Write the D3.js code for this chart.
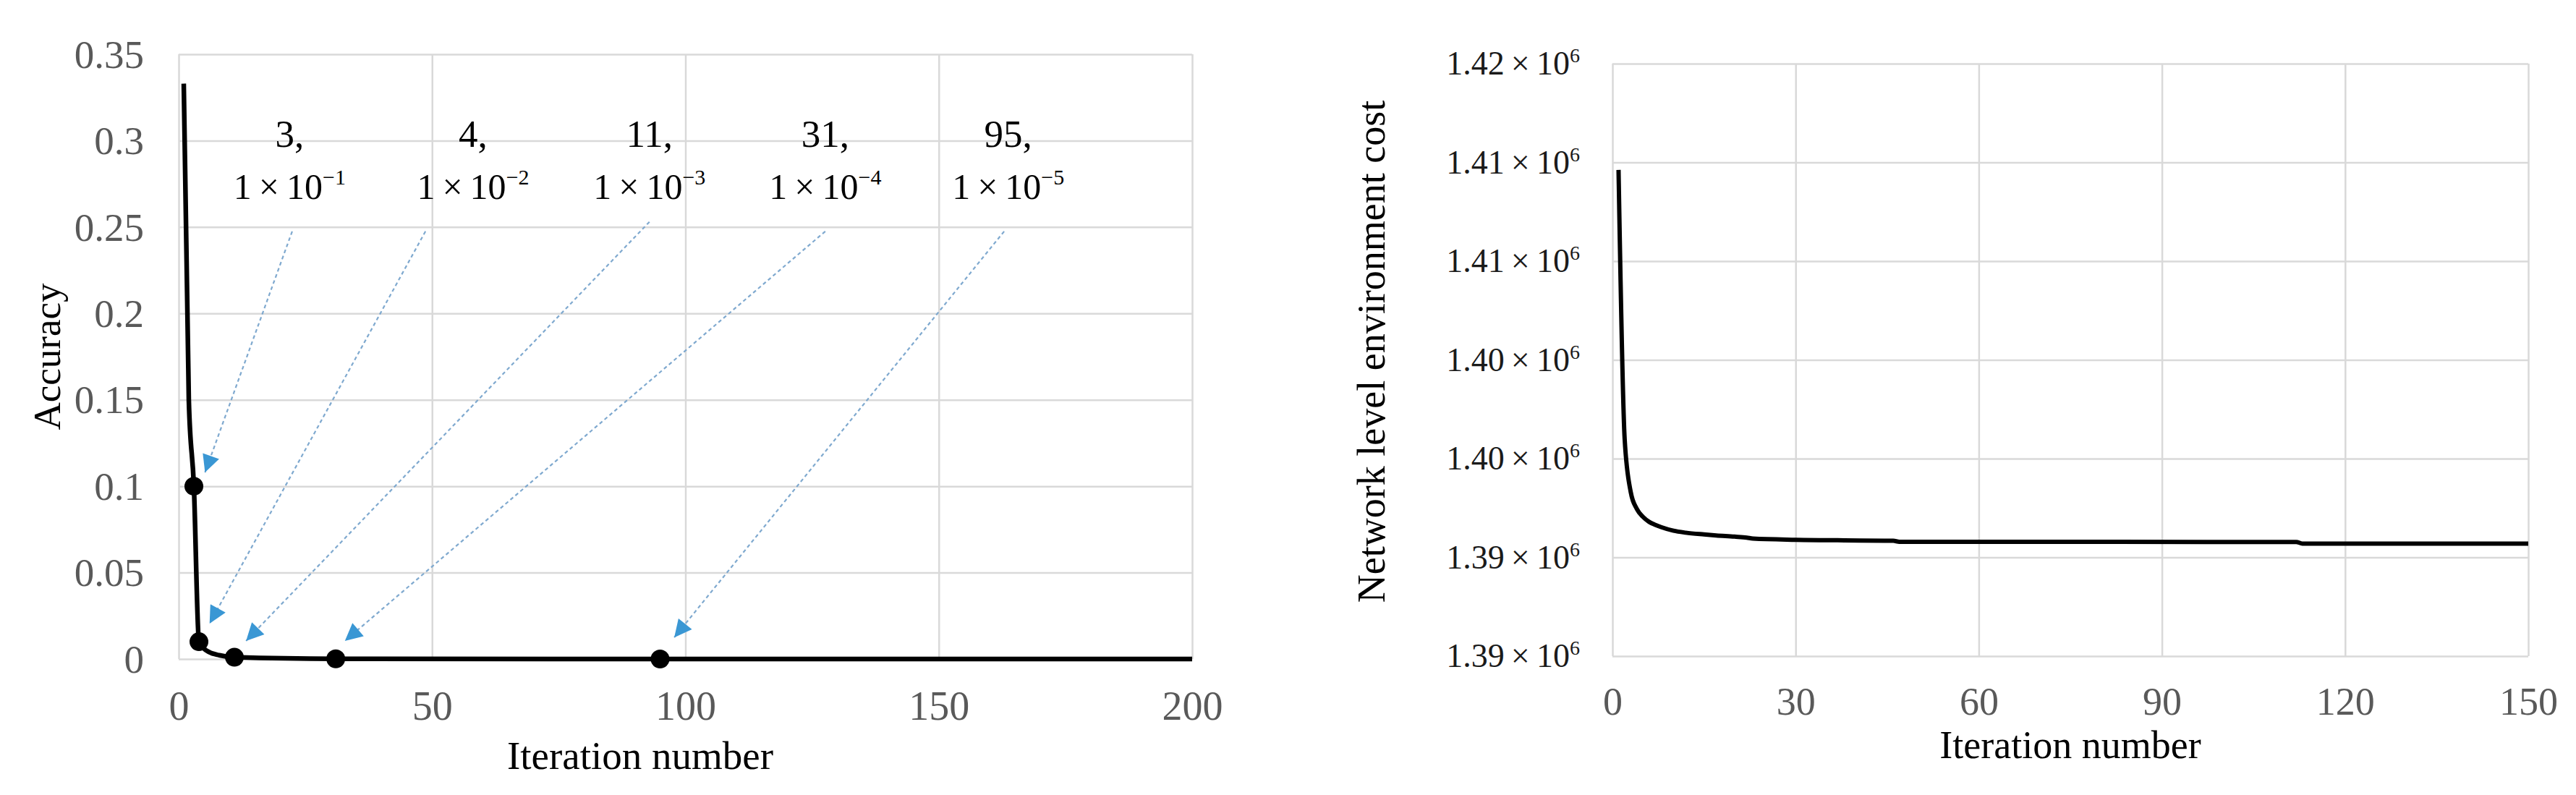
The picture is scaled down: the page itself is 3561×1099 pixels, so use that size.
<!DOCTYPE html>
<html>
<head>
<meta charset="utf-8">
<script src="https://cdn.jsdelivr.net/npm/d3@7"></script>
<style>
  body { margin: 0; background: #fff; }
  text { font-family: "Liberation Serif", "Times New Roman", serif; }
</style>
</head>
<body>
<svg id="chart" width="3561" height="1099"></svg>
<script>
// left panel: accuracy vs iteration
const accIter = [1, 2, 3, 4, 5, 6, 8, 11, 31, 95, 200];
const accVal = [0.333, 0.15, 0.1, 0.01, 0.006, 0.004, 0.0022, 0.001, 0.0001, 0.00001, 0];
const markIter = [3, 4, 11, 31, 95];
const markVal = [0.1, 0.01, 0.001, 0.0001, 0.00001];
const markLabel = ["3,", "4,", "11,", "31,", "95,"];
const markExp = ["\u22121", "\u22122", "\u22123", "\u22124", "\u22125"];
const accXTicks = [0, 50, 100, 150, 200];
const accYTicks = [0, 0.05, 0.1, 0.15, 0.2, 0.25, 0.3, 0.35];
const accYLabels = ["0", "0.05", "0.1", "0.15", "0.2", "0.25", "0.3", "0.35"];

// annotation anchors, in data units of the left panel
const noteX = [21.9, 58.1, 92.9, 127.6, 163.7];
const arrowFrom = [[22.4, 0.2475], [48.7, 0.2475], [92.9, 0.253], [127.6, 0.2475], [162.9, 0.2475]];
const arrowTo = [[5.2, 0.108], [6.1, 0.0205], [13.3, 0.0105], [32.8, 0.0105], [97.8, 0.0125]];

// right panel: network level environment cost
const costIter = [1, 2, 3, 4, 5, 6, 7, 8, 10, 12, 15, 17, 20, 22, 23, 30, 46, 47, 112, 113, 150];
const costVal = [1409620, 1396000, 1393300, 1392450, 1392050, 1391800, 1391650, 1391530, 1391350,
  1391250, 1391160, 1391110, 1391050, 1391000, 1390950, 1390890, 1390840, 1390790, 1390780, 1390700, 1390700];
const costXTicks = [0, 30, 60, 90, 120, 150];
const costYTicks = [1385000, 1390000, 1395000, 1400000, 1405000, 1410000, 1415000];
const costYLabels = ["1.39", "1.39", "1.40", "1.40", "1.41", "1.41", "1.42"];

const svg = d3.select("#chart");
const gridColor = "#d9d9d9";

function styleAxis(g) {
  g.select(".domain").remove();
  g.selectAll("line").attr("stroke", gridColor).attr("stroke-width", 2.5);
}

// ---------- left panel ----------
const xA = d3.scaleLinear().domain([0, 200]).range([247, 1648]);
const yA = d3.scaleLinear().domain([0, 0.35]).range([911, 75]);

svg.append("g")
  .attr("transform", `translate(0,${yA(0)})`)
  .call(d3.axisBottom(xA).tickValues(accXTicks).tickSize(yA(0.35) - yA(0)).tickFormat(d3.format("d")))
  .call(styleAxis)
  .call(g => g.selectAll("text").attr("y", 84).attr("dy", 0)
    .attr("font-size", 56).attr("fill", "#595959"));

svg.append("g")
  .attr("transform", `translate(${xA(0)},0)`)
  .call(d3.axisLeft(yA).tickValues(accYTicks).tickSize(xA(0) - xA(200)).tickFormat((d, i) => accYLabels[i]))
  .call(styleAxis)
  .call(g => g.selectAll("text").attr("x", -48).attr("dy", "0.33em")
    .attr("font-size", 55).attr("fill", "#595959"));

const accLine = d3.line()
  .x((d, i) => xA(accIter[i]))
  .y(d => yA(d))
  .curve(d3.curveMonotoneX);

svg.append("path")
  .datum(accVal)
  .attr("d", accLine)
  .attr("fill", "none")
  .attr("stroke", "#000")
  .attr("stroke-width", 6.5);

svg.append("g").selectAll("circle")
  .data(markVal)
  .join("circle")
  .attr("cx", (d, i) => xA(markIter[i]))
  .attr("cy", d => yA(d))
  .attr("r", 13)
  .attr("fill", "#000");

// arrows
svg.append("defs").append("marker")
  .attr("id", "head")
  .attr("viewBox", "0 0 10 10")
  .attr("refX", 10).attr("refY", 5)
  .attr("markerWidth", 27).attr("markerHeight", 24)
  .attr("markerUnits", "userSpaceOnUse")
  .attr("orient", "auto")
  .append("path")
  .attr("d", "M0,0 L10,5 L0,10 z")
  .attr("fill", "#3a97d4");

svg.append("g").selectAll("line")
  .data(arrowFrom)
  .join("line")
  .attr("x1", d => xA(d[0]))
  .attr("y1", d => yA(d[1]))
  .attr("x2", (d, i) => xA(arrowTo[i][0]))
  .attr("y2", (d, i) => yA(arrowTo[i][1]))
  .attr("stroke", "#7fa9cf")
  .attr("stroke-width", 2.2)
  .attr("stroke-dasharray", "5,4")
  .attr("marker-end", "url(#head)");

const notes = svg.append("g").selectAll("g")
  .data(markLabel)
  .join("g");

notes.append("text")
  .attr("x", (d, i) => xA(noteX[i]))
  .attr("y", yA(0.2965))
  .attr("text-anchor", "middle")
  .attr("font-size", 53)
  .text(d => d);

notes.append("text")
  .attr("x", (d, i) => xA(noteX[i]))
  .attr("y", yA(0.2663))
  .attr("text-anchor", "middle")
  .attr("font-size", 50)
  .each(function (d, i) {
    const t = d3.select(this);
    t.append("tspan").text("1\u2009\u00d7\u200910");
    t.append("tspan").attr("dy", -20).attr("font-size", 30).text(markExp[i]);
  });

svg.append("text")
  .attr("transform", `translate(64,${(yA(0) + yA(0.35)) / 2}) rotate(-90)`)
  .attr("text-anchor", "middle")
  .attr("dy", "0.35em")
  .attr("font-size", 53)
  .text("Accuracy");

svg.append("text")
  .attr("x", 885)
  .attr("y", 1063)
  .attr("text-anchor", "middle")
  .attr("font-size", 55)
  .text("Iteration number");

// ---------- right panel ----------
const xB = d3.scaleLinear().domain([0, 150]).range([2229, 3495]);
const yB = d3.scaleLinear().domain([1385000, 1415000]).range([907, 88]);

svg.append("g")
  .attr("transform", `translate(0,${yB(1385000)})`)
  .call(d3.axisBottom(xB).tickValues(costXTicks).tickSize(yB(1415000) - yB(1385000)).tickFormat(d3.format("d")))
  .call(styleAxis)
  .call(g => g.selectAll("text").attr("y", 81).attr("dy", 0)
    .attr("font-size", 54).attr("fill", "#595959"));

svg.append("g")
  .attr("transform", `translate(${xB(0)},0)`)
  .call(d3.axisLeft(yB).tickValues(costYTicks).tickSize(xB(0) - xB(150)).tickFormat(""))
  .call(styleAxis);

svg.append("g").selectAll("text")
  .data(costYTicks)
  .join("text")
  .attr("x", 2184)
  .attr("y", d => yB(d) + 15)
  .attr("text-anchor", "end")
  .attr("font-size", 46)
  .attr("fill", "#1a1a1a")
  .each(function (d, i) {
    const t = d3.select(this);
    t.append("tspan").text(costYLabels[i] + "\u2009\u00d7\u200910");
    t.append("tspan").attr("dy", -17).attr("font-size", 28).text("6");
  });

const costLine = d3.line()
  .x((d, i) => xB(costIter[i]))
  .y(d => yB(d))
  .curve(d3.curveMonotoneX);

svg.append("path")
  .datum(costVal)
  .attr("d", costLine)
  .attr("fill", "none")
  .attr("stroke", "#000")
  .attr("stroke-width", 6);

svg.append("text")
  .attr("transform", `translate(1895,486) rotate(-90)`)
  .attr("text-anchor", "middle")
  .attr("dy", "0.35em")
  .attr("font-size", 54)
  .text("Network level environment cost");

svg.append("text")
  .attr("x", (xB(0) + xB(150)) / 2)
  .attr("y", 1048)
  .attr("text-anchor", "middle")
  .attr("font-size", 54)
  .text("Iteration number");
</script>
</body>
</html>
